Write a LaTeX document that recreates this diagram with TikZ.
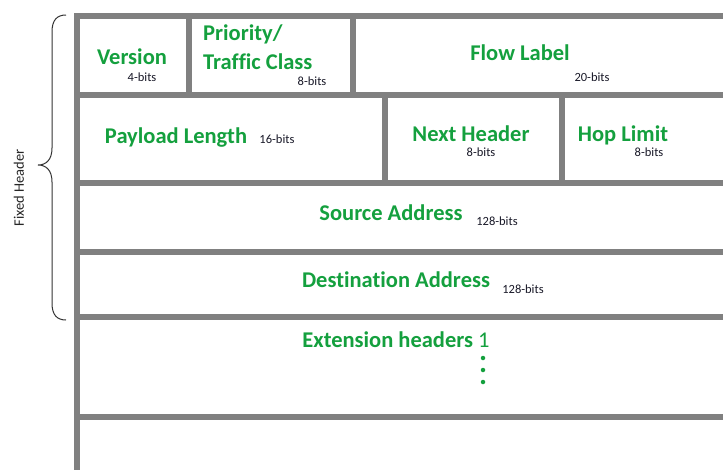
\documentclass[tikz,border=0pt]{standalone}
\usepackage{fontspec}
\setmainfont{Carlito}[Ligatures=CommonOff]
\definecolor{fieldgreen}{RGB}{20,160,62}
\definecolor{bargray}{RGB}{128,128,128}
\definecolor{bitcol}{RGB}{25,25,40}
\begin{document}
\begin{tikzpicture}[x=1pt,y=-1pt,
  bar/.style={draw=bargray,line width=6pt},
  title/.style={text=fieldgreen,font=\fontsize{22.5}{27}\selectfont\bfseries,inner sep=0pt,anchor=base},
  bits/.style={text=bitcol,font=\fontsize{12.5}{15}\selectfont,inner sep=0pt,anchor=base},
  dotmark/.style={circle,fill=fieldgreen,inner sep=0pt,minimum size=4.5pt}]
\useasboundingbox (0,0) rectangle (723,469);
\fill[white] (0,0) rectangle (723,469);
% grid
\draw[bar] (77,16) -- (726,16);
\draw[bar] (77,95) -- (726,95);
\draw[bar] (77,183) -- (726,183);
\draw[bar] (77,252) -- (726,252);
\draw[bar] (77,316.5) -- (726,316.5);
\draw[bar] (77,417) -- (726,417);
\draw[bar] (189,16) -- (189,95);
\draw[bar] (353,16) -- (353,95);
\draw[bar] (385,95) -- (385,183);
\draw[bar] (562,95) -- (562,183);
\draw[bar] (77,13) -- (77,472);
% row 1
\node[title] (ver) at (132,64) {Version};
\node[bits] (verb) at (142,81.5) {4-bits};
\node[title,anchor=base west] (prio1) at (203,40) {Priority/};
\node[title,anchor=base west] (prio2) at (203,69) {Traffic Class};
\node[bits] (priob) at (312,85) {8-bits};
\node[title] (flow) at (520,60) {Flow Label};
\node[bits] (flowb) at (592,81.5) {20-bits};
% row 2
\node[title] (pay) at (176,143) {Payload Length};
\node[bits] (payb) at (277,143) {16-bits};
\node[title] (next) at (471,141) {Next Header};
\node[bits] (nextb) at (481,156) {8-bits};
\node[title] (hop) at (623,141) {Hop Limit};
\node[bits] (hopb) at (649,156) {8-bits};
% addresses
\node[title] (src) at (391,220) {Source Address};
\node[bits] (srcb) at (497,225) {128-bits};
\node[title] (dst) at (396,287) {Destination Address};
\node[bits] (dstb) at (523,293) {128-bits};
% extension
\node[title] (ext) at (396,347) {Extension headers \mdseries 1};
\node[dotmark] (d1) at (483,358) {};
\node[dotmark] (d2) at (483,370) {};
\node[dotmark] (d3) at (483,382) {};
% brace
\coordinate (btop) at (66,15);
\coordinate (btip) at (38,165);
\coordinate (bbot) at (66,320);
\draw[line width=1pt,color=black!80] (btop) .. controls (57,15) and (52,20) .. (52,32)
  -- (52,148) .. controls (52,160) and (46,165) .. (btip)
  .. controls (46,165) and (52,170) .. (52,182)
  -- (52,303) .. controls (52,315) and (57,320) .. (bbot);
\node[rotate=90,text=black!85,font=\fontsize{14.5}{17}\selectfont,inner sep=0pt] (fixed) at (19,188) {Fixed Header};
\end{tikzpicture}
\end{document}
